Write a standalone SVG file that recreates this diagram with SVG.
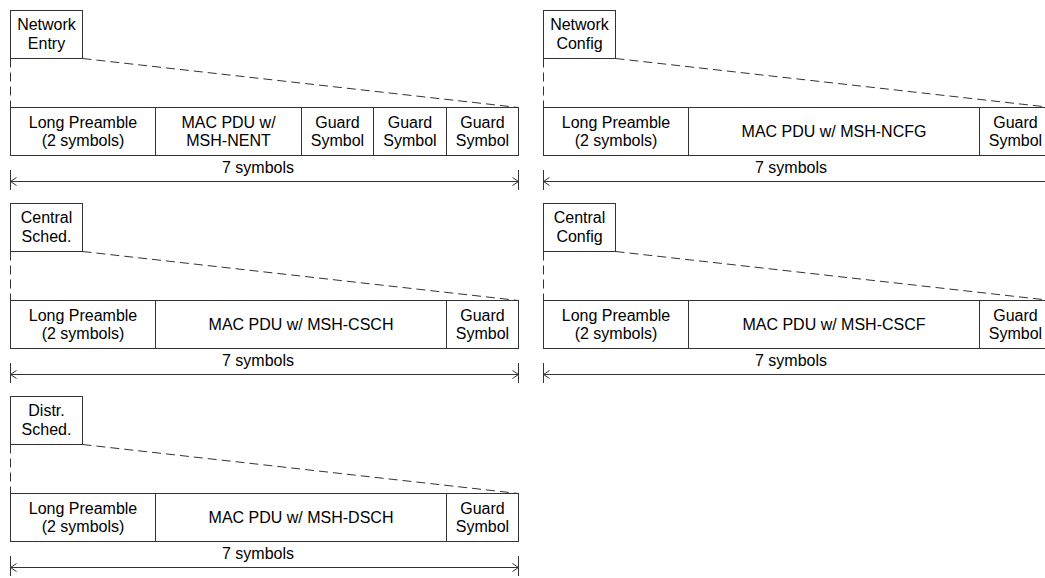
<svg xmlns="http://www.w3.org/2000/svg" width="1045" height="578" viewBox="0 0 1045 578">
<style>
.bx{fill:#fff;stroke:#333;stroke-width:1}
.t{font-family:"Liberation Sans",Arial,sans-serif;font-size:16px;fill:#000;text-anchor:middle}
.dash{fill:none;stroke:#333;stroke-width:1;stroke-dasharray:9,5}
.dim{fill:none;stroke:#333;stroke-width:1}
</style>
<defs>
<marker id="ah" markerWidth="10" markerHeight="10" refX="8" refY="5" orient="auto-start-reverse" markerUnits="userSpaceOnUse" overflow="visible">
<path d="M2,1 L8,5 L2,9" fill="none" stroke="#333" stroke-width="1"/>
</marker>
</defs>
<rect width="1045" height="578" fill="#fff"/>

<!-- Panel 1: Network Entry -->
<g id="panel-entry">
<g id="entry-label"><rect class="bx" x="10.5" y="10.5" width="72" height="48"/><text class="t" x="46.5" y="30">Network</text><text class="t" x="46.5" y="49">Entry</text></g>
<g id="entry-preamble"><rect class="bx" x="10.5" y="107.5" width="145" height="48"/><text class="t" x="83" y="127.5">Long Preamble</text><text class="t" x="83" y="145.5">(2 symbols)</text></g>
<g id="entry-pdu"><rect class="bx" x="155.5" y="107.5" width="146" height="48"/><text class="t" x="228.5" y="127.5">MAC PDU w/</text><text class="t" x="228.5" y="145.5">MSH-NENT</text></g>
<g id="entry-guard1"><rect class="bx" x="301.5" y="107.5" width="72" height="48"/><text class="t" x="337.5" y="127.5">Guard</text><text class="t" x="337.5" y="145.5">Symbol</text></g>
<g id="entry-guard2"><rect class="bx" x="373.5" y="107.5" width="73" height="48"/><text class="t" x="410" y="127.5">Guard</text><text class="t" x="410" y="145.5">Symbol</text></g>
<g id="entry-guard3"><rect class="bx" x="446.5" y="107.5" width="72" height="48"/><text class="t" x="482.5" y="127.5">Guard</text><text class="t" x="482.5" y="145.5">Symbol</text></g>
<text class="t" x="258" y="172.5">7 symbols</text>
</g>

<!-- Panel 2: Network Config -->
<g id="panel-ncfg" transform="translate(533,0)">
<g id="ncfg-label"><rect class="bx" x="10.5" y="10.5" width="72" height="48"/><text class="t" x="46.5" y="30">Network</text><text class="t" x="46.5" y="49">Config</text></g>
<g id="ncfg-preamble"><rect class="bx" x="10.5" y="107.5" width="145" height="48"/><text class="t" x="83" y="127.5">Long Preamble</text><text class="t" x="83" y="145.5">(2 symbols)</text></g>
<g id="ncfg-pdu"><rect class="bx" x="155.5" y="107.5" width="291" height="48"/><text class="t" x="301" y="137">MAC PDU w/ MSH-NCFG</text></g>
<g id="ncfg-guard"><rect class="bx" x="446.5" y="107.5" width="72" height="48"/><text class="t" x="482.5" y="127.5">Guard</text><text class="t" x="482.5" y="145.5">Symbol</text></g>
<text class="t" x="258" y="172.5">7 symbols</text>
</g>

<!-- Panel 3: Central Sched -->
<g id="panel-csch" transform="translate(0,193)">
<g id="csch-label"><rect class="bx" x="10.5" y="10.5" width="72" height="48"/><text class="t" x="46.5" y="30">Central</text><text class="t" x="46.5" y="49">Sched.</text></g>
<g id="csch-preamble"><rect class="bx" x="10.5" y="107.5" width="145" height="48"/><text class="t" x="83" y="127.5">Long Preamble</text><text class="t" x="83" y="145.5">(2 symbols)</text></g>
<g id="csch-pdu"><rect class="bx" x="155.5" y="107.5" width="291" height="48"/><text class="t" x="301" y="137">MAC PDU w/ MSH-CSCH</text></g>
<g id="csch-guard"><rect class="bx" x="446.5" y="107.5" width="72" height="48"/><text class="t" x="482.5" y="127.5">Guard</text><text class="t" x="482.5" y="145.5">Symbol</text></g>
<text class="t" x="258" y="172.5">7 symbols</text>
</g>

<!-- Panel 4: Central Config -->
<g id="panel-cscf" transform="translate(533,193)">
<g id="cscf-label"><rect class="bx" x="10.5" y="10.5" width="72" height="48"/><text class="t" x="46.5" y="30">Central</text><text class="t" x="46.5" y="49">Config</text></g>
<g id="cscf-preamble"><rect class="bx" x="10.5" y="107.5" width="145" height="48"/><text class="t" x="83" y="127.5">Long Preamble</text><text class="t" x="83" y="145.5">(2 symbols)</text></g>
<g id="cscf-pdu"><rect class="bx" x="155.5" y="107.5" width="291" height="48"/><text class="t" x="301" y="137">MAC PDU w/ MSH-CSCF</text></g>
<g id="cscf-guard"><rect class="bx" x="446.5" y="107.5" width="72" height="48"/><text class="t" x="482.5" y="127.5">Guard</text><text class="t" x="482.5" y="145.5">Symbol</text></g>
<text class="t" x="258" y="172.5">7 symbols</text>
</g>

<!-- Panel 5: Distr Sched -->
<g id="panel-dsch" transform="translate(0,386)">
<g id="dsch-label"><rect class="bx" x="10.5" y="10.5" width="72" height="48"/><text class="t" x="46.5" y="30">Distr.</text><text class="t" x="46.5" y="49">Sched.</text></g>
<g id="dsch-preamble"><rect class="bx" x="10.5" y="107.5" width="145" height="48"/><text class="t" x="83" y="127.5">Long Preamble</text><text class="t" x="83" y="145.5">(2 symbols)</text></g>
<g id="dsch-pdu"><rect class="bx" x="155.5" y="107.5" width="291" height="48"/><text class="t" x="301" y="137">MAC PDU w/ MSH-DSCH</text></g>
<g id="dsch-guard"><rect class="bx" x="446.5" y="107.5" width="72" height="48"/><text class="t" x="482.5" y="127.5">Guard</text><text class="t" x="482.5" y="145.5">Symbol</text></g>
<text class="t" x="258" y="172.5">7 symbols</text>
</g>

<!-- Connectors -->
<g id="connectors">
<g transform="translate(0,0)">
<path class="dash" d="M10.5,58.5 V107.5 M82.5,58.5 L518.5,107.5"/>
<path class="dim" d="M10.5,170 V190 M518.5,170 V190"/>
<path class="dim" d="M10.5,181.5 H518.5" marker-start="url(#ah)" marker-end="url(#ah)"/>
</g>
<g transform="translate(533,0)">
<path class="dash" d="M10.5,58.5 V107.5 M82.5,58.5 L518.5,107.5"/>
<path class="dim" d="M10.5,170 V190 M518.5,170 V190"/>
<path class="dim" d="M10.5,181.5 H518.5" marker-start="url(#ah)" marker-end="url(#ah)"/>
</g>
<g transform="translate(0,193)">
<path class="dash" d="M10.5,58.5 V107.5 M82.5,58.5 L518.5,107.5"/>
<path class="dim" d="M10.5,170 V190 M518.5,170 V190"/>
<path class="dim" d="M10.5,181.5 H518.5" marker-start="url(#ah)" marker-end="url(#ah)"/>
</g>
<g transform="translate(533,193)">
<path class="dash" d="M10.5,58.5 V107.5 M82.5,58.5 L518.5,107.5"/>
<path class="dim" d="M10.5,170 V190 M518.5,170 V190"/>
<path class="dim" d="M10.5,181.5 H518.5" marker-start="url(#ah)" marker-end="url(#ah)"/>
</g>
<g transform="translate(0,386)">
<path class="dash" d="M10.5,58.5 V107.5 M82.5,58.5 L518.5,107.5"/>
<path class="dim" d="M10.5,170 V190 M518.5,170 V190"/>
<path class="dim" d="M10.5,181.5 H518.5" marker-start="url(#ah)" marker-end="url(#ah)"/>
</g>
</g>
</svg>
